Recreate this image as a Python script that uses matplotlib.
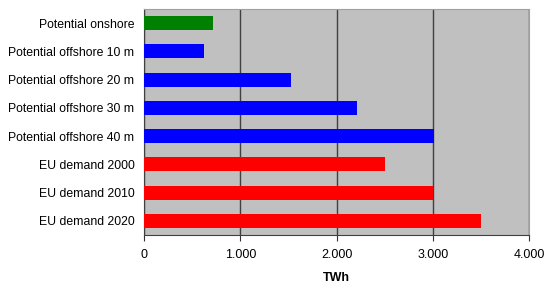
import numpy as np
import matplotlib
matplotlib.use("Agg")
import matplotlib.pyplot as plt
from matplotlib.ticker import FuncFormatter

plt.rcParams["font.family"] = ["Liberation Sans", "DejaVu Sans"]

# data (TWh)
categories = ["Potential onshore", "Potential offshore 10 m", "Potential offshore 20 m",
              "Potential offshore 30 m", "Potential offshore 40 m",
              "EU demand 2000", "EU demand 2010", "EU demand 2020"]
values = [720, 620, 1530, 2210, 3010, 2500, 3000, 3500]
colors = ["#008000", "#0000ff", "#0000ff", "#0000ff", "#0000ff",
          "#ff0000", "#ff0000", "#ff0000"]
xticks = [0, 1000, 2000, 3000, 4000]

fig = plt.figure(figsize=(5.5, 2.88), dpi=100)
ax = fig.add_axes([0.262, 0.184, 0.7, 0.785])
ax.set_facecolor("#c0c0c0")

y = np.arange(len(categories))
ax.barh(y, values, height=0.5, color=colors, zorder=3)
ax.set_ylim(len(categories) - 0.5, -0.5)
ax.set_xlim(0, 4000)

ax.set_xticks(xticks)
ax.xaxis.set_major_formatter(FuncFormatter(lambda v, p: "0" if v == 0 else f"{v/1000:.3f}"))
ax.set_yticks(y)
ax.set_yticklabels(categories)
ax.tick_params(axis="y", length=0, pad=7, labelsize=8.8)
ax.tick_params(axis="x", length=4, pad=6, labelsize=9, direction="out", color="#333333")
ax.xaxis.grid(True, color="#404040", linewidth=1, zorder=1)
ax.set_axisbelow(True)

for s in ["top", "right"]:
    ax.spines[s].set_color("#a0a0a0")
for s in ["left", "bottom"]:
    ax.spines[s].set_color("#404040")

ax.set_xlabel("TWh", fontsize=9, fontweight="bold", labelpad=8)

fig.savefig("out.png", dpi=100)
